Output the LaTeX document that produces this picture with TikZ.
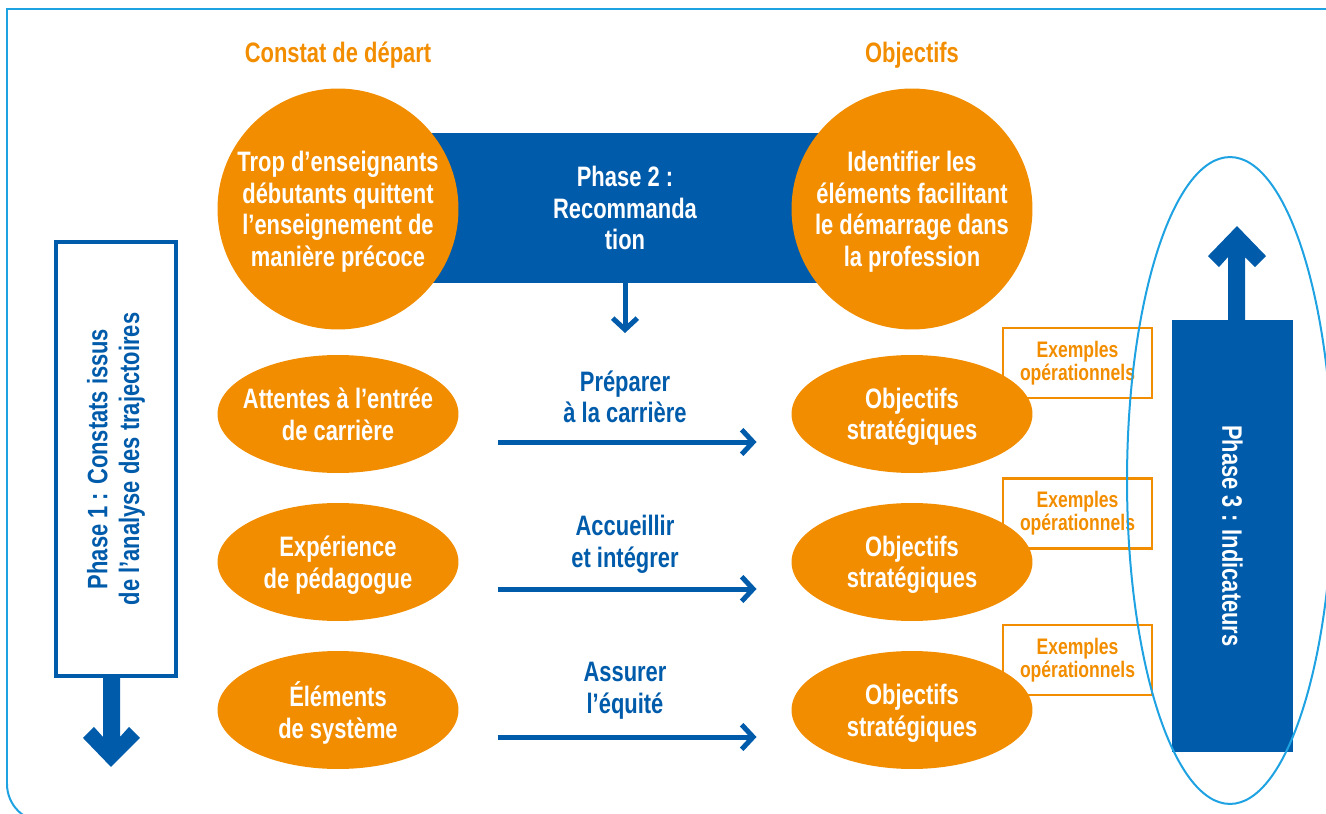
\documentclass[tikz,border=0pt]{standalone}
\usepackage{fontspec}
\setmainfont{Liberation Sans}[FakeStretch=0.78]
\usetikzlibrary{shapes.geometric, calc, arrows.meta}
\definecolor{orangeF}{RGB}{242,141,0}
\definecolor{bleuF}{RGB}{0,91,170}
\definecolor{cielF}{RGB}{30,162,226}

\begin{document}
\begin{tikzpicture}[x=0.02cm,y=-0.02cm,
  every node/.style={font=\bfseries\fontsize{16}{18}\selectfont,align=center,inner sep=0pt,outer sep=0pt},
  titre/.style={text=orangeF},
  rond/.style={circle,fill=orangeF,text=white,minimum size=4.82cm,inner sep=-0.2cm,text depth=-9pt},
  ovale/.style={ellipse,fill=orangeF,text=white,minimum width=4.82cm,minimum height=2.36cm,
    inner xsep=-0.45cm,text depth=-6.5pt},
  exemple/.style={draw=orangeF,line width=0.05cm,text=orangeF,minimum width=2.98cm,minimum height=1.4cm,
    font=\bfseries\fontsize{12.8}{13.2}\selectfont},
  fleche/.style={draw=bleuF,line width=0.1cm,-{Straight Barb[length=6.5pt,width=14pt]}},
  legende/.style={text=bleuF}]
  \useasboundingbox (0,0) rectangle (1326,814);
  % cadre
  \draw[cielF,line width=0.04cm] (1340,9) -- (7,9) -- (7,700);
  \draw[cielF,line width=0.04cm,rounded corners=0.76cm] (7,690) -- (7,822) -- (1340,822);

  \node[titre] (tconstat) at (338,55) {Constat de départ};
  \node[titre] (tobjectifs) at (912,55) {Objectifs};
  \node[fill=bleuF,text=white,minimum width=8cm,minimum height=3.02cm] (ph2) at (625,208) {Phase 2 :\\Recommanda\\tion};
  \node[rond] (constat) at (338,209) {Trop d’enseignants\\débutants quittent\\l’enseignement de\\manière précoce};
  \node[rond] (but) at (912,209) {Identifier les\\éléments facilitant\\le démarrage dans\\la profession};
  \coordinate (ph2bas) at (625,333);
  \draw[fleche] (ph2.south) -- (ph2bas);

  \node[ovale] (attentes) at (338,414) {Attentes à l’entrée\\de carrière};
  \node[ovale] (experience) at (338,562) {Expérience\\de pédagogue};
  \node[ovale] (elements) at (338,710) {Éléments\\de système};
  \node[ovale] (strat1) at (912,414) {Objectifs\\stratégiques};
  \node[ovale] (strat2) at (912,562) {Objectifs\\stratégiques};
  \node[ovale] (strat3) at (912,710) {Objectifs\\stratégiques};

  \draw[fleche] ($(attentes.east)+(40,28)$) -- ($(strat1.west)+(-35,28)$);
  \draw[fleche] ($(experience.east)+(40,27)$) -- ($(strat2.west)+(-35,27)$);
  \draw[fleche] ($(elements.east)+(40,27)$) -- ($(strat3.west)+(-35,27)$);
  \node[legende] (prep) at (625,397) {Préparer\\à la carrière};
  \node[legende] (accueil) at (625,544) {Accueillir\\et intégrer};
  \node[legende] (equite) at (625,691) {Assurer\\l’équité};

  \node[exemple] (ex1) at (1077.5,363) {Exemples\\opérationnels};
  \node[exemple] (ex2) at (1077.5,513.5) {Exemples\\opérationnels};
  \node[exemple] (ex3) at (1077.5,660) {Exemples\\opérationnels};

  % phase 1
  \node[draw=bleuF,line width=0.08cm,fill=white,text=bleuF,rotate=90,minimum width=8.68cm,minimum height=2.42cm]
    (ph1) at (116,459) {Phase 1 : Constats issus\\de l’analyse des trajectoires};
  \fill[bleuF,shift={(ph1.west)}] (-5,91) -- (-33,62) -- (-22,51) -- (-13,61) -- (-13,0) -- (4,0)
    -- (4,61) -- (13,51) -- (24,62) -- cycle;

  % phase 3
  \node[fill=bleuF,text=white,rotate=-90,minimum width=8.64cm,minimum height=2.42cm] (ph3) at (1232.5,536) {Phase 3 : Indicateurs};
  \fill[bleuF,shift={(ph3.west)}] (4.5,-94) -- (33.5,-64) -- (22.5,-53) -- (12.5,-63) -- (12.5,0) -- (-4.5,0)
    -- (-4.5,-63) -- (-13.5,-53) -- (-24.5,-64) -- cycle;
  \node[ellipse,draw=cielF,line width=0.04cm,minimum width=4.12cm,minimum height=12.94cm] (anneau) at (1230,480.5) {};
\end{tikzpicture}
\end{document}
